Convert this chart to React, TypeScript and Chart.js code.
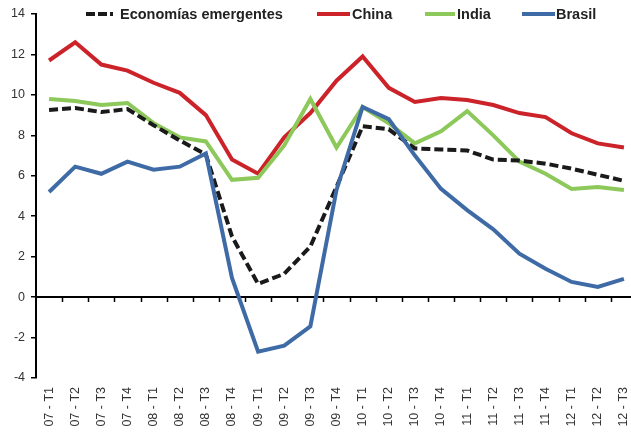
import React, { useEffect, useRef } from "react";
import { Chart, registerables } from "chart.js";

Chart.register(...registerables);

const categories = [
  "07 - T1", "07 - T2", "07 - T3", "07 - T4",
  "08 - T1", "08 - T2", "08 - T3", "08 - T4",
  "09 - T1", "09 - T2", "09 - T3", "09 - T4",
  "10 - T1", "10 - T2", "10 - T3", "10 - T4",
  "11 - T1", "11 - T2", "11 - T3", "11 - T4",
  "12 - T1", "12 - T2", "12 - T3",
];

const emergentes = [9.25, 9.35, 9.15, 9.3, 8.5, 7.75, 7.05, 3.0, 0.65, 1.15, 2.5, 5.45, 8.45, 8.3, 7.35, 7.3, 7.25, 6.8, 6.75, 6.6, 6.35, 6.05, 5.75];
const china = [11.7, 12.6, 11.5, 11.2, 10.6, 10.1, 9.0, 6.8, 6.1, 7.9, 9.1, 10.7, 11.9, 10.35, 9.65, 9.85, 9.75, 9.5, 9.1, 8.9, 8.1, 7.6, 7.4];
const india = [9.8, 9.7, 9.5, 9.6, 8.6, 7.9, 7.7, 5.8, 5.9, 7.5, 9.8, 7.4, 9.4, 8.6, 7.6, 8.2, 9.2, 8.0, 6.7, 6.1, 5.35, 5.45, 5.3];
const brasil = [5.2, 6.45, 6.1, 6.7, 6.3, 6.45, 7.1, 0.95, -2.7, -2.4, -1.45, 5.3, 9.4, 8.8, 7.0, 5.35, 4.3, 3.35, 2.15, 1.4, 0.75, 0.5, 0.9];

const seriesNames = ["Economías emergentes", "China", "India", "Brasil"];
const yMin = -4;
const yMax = 14;
const yStep = 2;

const COLORS = {
  emergentes: "#1a1a1a",
  china: "#cc2229",
  india: "#8dc85a",
  brasil: "#3e6aa6",
};

const legendPlugin = {
  id: "customLegend",
  afterDraw(chart: any) {
    const ctx = chart.ctx;
    const items = [
      { name: seriesNames[0], color: COLORS.emergentes, dash: [9, 3], x1: 86, x2: 113, tx: 120 },
      { name: seriesNames[1], color: COLORS.china, dash: [], x1: 317, x2: 350, tx: 352 },
      { name: seriesNames[2], color: COLORS.india, dash: [], x1: 425, x2: 455, tx: 457 },
      { name: seriesNames[3], color: COLORS.brasil, dash: [], x1: 522, x2: 555, tx: 556 },
    ];
    const y = 14;
    ctx.save();
    for (const it of items) {
      ctx.beginPath();
      ctx.setLineDash(it.dash);
      ctx.lineWidth = 4;
      ctx.strokeStyle = it.color;
      ctx.lineCap = "butt";
      ctx.moveTo(it.x1, y);
      ctx.lineTo(it.x2, y);
      ctx.stroke();
      ctx.setLineDash([]);
      ctx.fillStyle = "#222";
      ctx.font = "bold 14.5px 'Liberation Sans', Arial, sans-serif";
      ctx.textAlign = "left";
      ctx.textBaseline = "middle";
      ctx.fillText(it.name, it.tx, y + 0.5);
    }
    ctx.restore();
  },
};

const zeroLinePlugin = {
  id: "zeroLine",
  beforeDatasetsDraw(chart: any) {
    const ctx = chart.ctx;
    const xs = chart.scales.x;
    const ys = chart.scales.y;
    const y0 = Math.round(ys.getPixelForValue(0));
    ctx.save();
    ctx.strokeStyle = "#000";
    ctx.lineWidth = 2;
    ctx.beginPath();
    ctx.moveTo(chart.chartArea.left, y0);
    ctx.lineTo(chart.width, y0);
    ctx.stroke();
    ctx.lineWidth = 1.5;
    const n = categories.length;
    const sp = xs.getPixelForValue(1) - xs.getPixelForValue(0);
    for (let i = 0; i < n; i++) {
      const bx = Math.round(xs.getPixelForValue(i) + sp / 2) + 0.5;
      ctx.beginPath();
      ctx.moveTo(bx, y0);
      ctx.lineTo(bx, y0 + 5);
      ctx.stroke();
    }
    ctx.restore();
  },
};

export default function App() {
  const ref = useRef<HTMLCanvasElement | null>(null);

  useEffect(() => {
    if (!ref.current) return;
    const chart = new Chart(ref.current, {
      type: "line",
      data: {
        labels: categories,
        datasets: [
          { label: seriesNames[0], data: emergentes, borderColor: COLORS.emergentes, borderDash: [9, 4], borderWidth: 4, order: 1 },
          { label: seriesNames[1], data: china, borderColor: COLORS.china, borderWidth: 4, order: 3 },
          { label: seriesNames[2], data: india, borderColor: COLORS.india, borderWidth: 4, order: 2 },
          { label: seriesNames[3], data: brasil, borderColor: COLORS.brasil, borderWidth: 4, order: 0 },
        ].map((d) => ({ ...d, pointRadius: 0, tension: 0, fill: false, backgroundColor: d.borderColor })),
      },
      options: {
        responsive: false,
        animation: false,
        devicePixelRatio: 1,
        layout: { padding: { top: 14, right: 13, left: 0, bottom: 0 } },
        plugins: { legend: { display: false }, tooltip: { enabled: false } },
        scales: {
          x: {
            type: "category",
            offset: true,
            grid: { display: false, drawTicks: false },
            border: { display: false },
            ticks: {
              autoSkip: false,
              minRotation: 90,
              maxRotation: 90,
              padding: 9,
              color: "#333",
              font: { family: "'Liberation Sans', Arial, sans-serif", size: 12.5 },
            },
            afterFit: (s: any) => { s.height = 54; },
          },
          y: {
            min: yMin,
            max: yMax,
            ticks: {
              stepSize: yStep,
              padding: 6,
              color: "#333",
              font: { family: "'Liberation Sans', Arial, sans-serif", size: 12.5 },
            },
            grid: { drawOnChartArea: false, drawTicks: true, tickLength: 5, color: "#000", lineWidth: 1.5 },
            border: { display: true, color: "#000", width: 2 },
            afterFit: (s: any) => { s.width = 36; },
          },
        },
      },
      plugins: [zeroLinePlugin, legendPlugin],
    });
    return () => chart.destroy();
  }, []);

  return (
    <div style={{ position: "fixed", left: 0, top: 0, width: 631, height: 432, overflow: "hidden", background: "#fff" }}>
      <canvas ref={ref} width={650} height={432} style={{ display: "block" }} />
    </div>
  );
}
